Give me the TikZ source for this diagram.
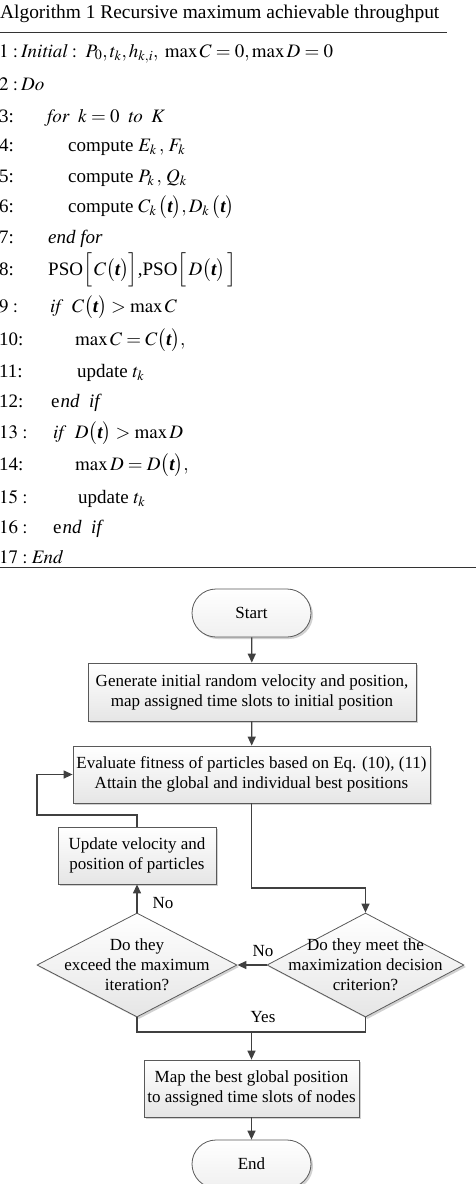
\documentclass[tikz,border=0pt]{standalone}
\usepackage{mathptmx}
\usepackage{fontspec}
\setmainfont{Liberation Serif}
\usetikzlibrary{arrows.meta,shapes.geometric,shadows}
\newcommand{\boldt}{\mbox{\bfseries\itshape t}}
\newcommand{\algfont}{\fontsize{19}{23}\selectfont}
\newcommand{\flowfont}{\fontsize{17}{20}\selectfont}
\begin{document}
\begin{tikzpicture}[x=1pt,y=-1pt,
  alg/.style={anchor=base west,inner sep=0pt,font=\algfont},
  lbl/.style={inner sep=0pt,font=\flowfont},
  stepbox/.style={draw=black!65,line width=0.8pt,top color=white,bottom color=black!10,
    drop shadow={shadow xshift=2pt,shadow yshift=-2pt,fill=black,opacity=0.18},
    align=center,font=\flowfont,inner sep=0pt},
  term/.style={stepbox,rounded corners=24pt,minimum width=119pt,minimum height=48pt,
    top color=white,bottom color=black!6},
  decision/.style={stepbox,diamond,inner sep=0pt},
  dtext/.style={align=center,font=\flowfont,inner sep=0pt},
  conn/.style={draw=black!75,line width=1.3pt},
  arr/.style={conn,-{Triangle[length=9pt,width=8pt]}}]
\useasboundingbox (0,0) rectangle (476,1184);
% ---------- algorithm ----------
\node[alg,font=\fontsize{19.4}{23}\selectfont] (title) at (0,18) {Algorithm 1 Recursive maximum achievable throughput};
\coordinate (r1a) at (0,32); \coordinate (r1b) at (447,32);
\draw[line width=0.9pt,black!80] (r1a) -- (r1b);
\node[alg] (n1) at (-1,57) {$1:$};
\node[alg] (l1) at (21,57) {$\mathit{Initial}:\;P_0,t_k,h_{k,i},\;\max C=0,\max D=0$};
\node[alg] (n2) at (-1,90) {$2:$};
\node[alg] (l2) at (21,90) {$\mathit{Do}$};
\node[alg] (n3) at (-1,122) {3:};
\node[alg] (l3) at (47,122) {$\mathit{for}\;\;k=0\;\;\mathit{to}\;\;K$};
\node[alg] (n4) at (-1,151) {4:};
\node[alg] (l4) at (68,151) {compute $E_k\,,\,F_k$};
\node[alg] (n5) at (-1,182) {5:};
\node[alg] (l5) at (68,182) {compute $P_k\,,\,Q_k$};
\node[alg] (n6) at (-1,212) {6:};
\node[alg] (l6) at (68,212) {compute $C_k\,\bigl(\boldt\bigr),D_k\,\bigl(\boldt\bigr)$};
\node[alg] (n7) at (-1,243) {7:};
\node[alg] (l7) at (48,243) {\textit{end for}};
\node[alg] (n8) at (-1,275) {8:};
\node[alg] (l8) at (48,275) {PSO$\Bigl[\,C\bigl(\boldt\bigr)\Bigr]$,PSO$\Bigl[\,D\bigl(\boldt\bigr)\,\Bigr]$};
\node[alg] (n9) at (-1,312) {$9:$};
\node[alg] (l9) at (50,312) {$\mathit{if}\;\;C\bigl(\boldt\bigr)>\max C$};
\node[alg] (n10) at (-1,345) {10:};
\node[alg] (l10) at (75,345) {$\max C=C\bigl(\boldt\bigr),$};
\node[alg] (n11) at (-1,377) {11:};
\node[alg] (l11) at (77,377) {update $t_k$};
\node[alg] (n12) at (-1,407) {12:};
\node[alg] (l12) at (51,407) {e\kern1pt\textit{nd\ \ if}};
\node[alg] (n13) at (-1,438) {$13:$};
\node[alg] (l13) at (53,438) {$\mathit{if}\;\;D\bigl(\boldt\bigr)>\max D$};
\node[alg] (n14) at (-1,470) {14:};
\node[alg] (l14) at (75,470) {$\max D=D\bigl(\boldt\bigr),$};
\node[alg] (n15) at (-1,503) {$15:$};
\node[alg] (l15) at (78,503) {update $t_k$};
\node[alg] (n16) at (-1,533) {$16:$};
\node[alg] (l16) at (53,533) {e\kern1pt\textit{nd\ \ if}};
\node[alg] (n17) at (-1,563) {$17:\mathit{End}$};
\coordinate (r2a) at (0,567); \coordinate (r2b) at (476,567);
\draw[line width=0.9pt,black!80] (r2a) -- (r2b);
% ---------- flowchart ----------
\node[term] (start) at (251.5,613) {Start};
\node[stepbox,minimum width=328pt,minimum height=58pt] (b1) at (252,692)
  {Generate initial random velocity and position,\\map assigned time slots to initial position};
\node[stepbox,minimum width=357pt,minimum height=57pt] (b2) at (251.5,774.5)
  {Evaluate fitness of particles based on Eq. (10), (11)\\Attain the global and individual best positions};
\node[stepbox,minimum width=158pt,minimum height=57pt] (upd) at (137,855.5)
  {Update velocity and\\position of particles};
\node[decision,minimum width=200pt,minimum height=104pt] (d1) at (137,965) {};
\node[dtext] (d1t) at (d1.center) {Do they\\exceed the maximum\\iteration?};
\node[decision,minimum width=197pt,minimum height=104pt] (d2) at (365.5,965) {};
\node[dtext] (d2t) at (d2.center) {Do they meet the\\maximization decision\\criterion?};
\node[stepbox,minimum width=215pt,minimum height=57pt] (map) at (251.5,1088.5)
  {Map the best global position\\to assigned time slots of nodes};
\node[term] (end) at (251.5,1164) {End};
\coordinate (loopA) at (137,815);
\coordinate (loopB) at (37,815);
\coordinate (bend) at (251.5,888);
\coordinate (yesJ) at (251.5,1032);
\draw[arr] (start) -- (b1);
\draw[arr] (b1) -- (b2);
\draw[arr] (upd.north) -- (loopA) -- (loopB) |- (b2.west);
\draw[arr] (b2.south) -- (bend) -| (d2.north);
\draw[arr] (d2.west) -- (d1.east);
\draw[arr] (d1.north) -- (upd.south);
\draw[conn] (d1.south) |- (yesJ) -| (d2.south);
\draw[arr] (yesJ) -- (map.north);
\draw[arr] (map) -- (end);
\node[lbl] (no1) at (263,951) {No};
\node[lbl] (no2) at (163,903) {No};
\node[lbl] (yes) at (263,1017) {Yes};
\end{tikzpicture}
\end{document}
